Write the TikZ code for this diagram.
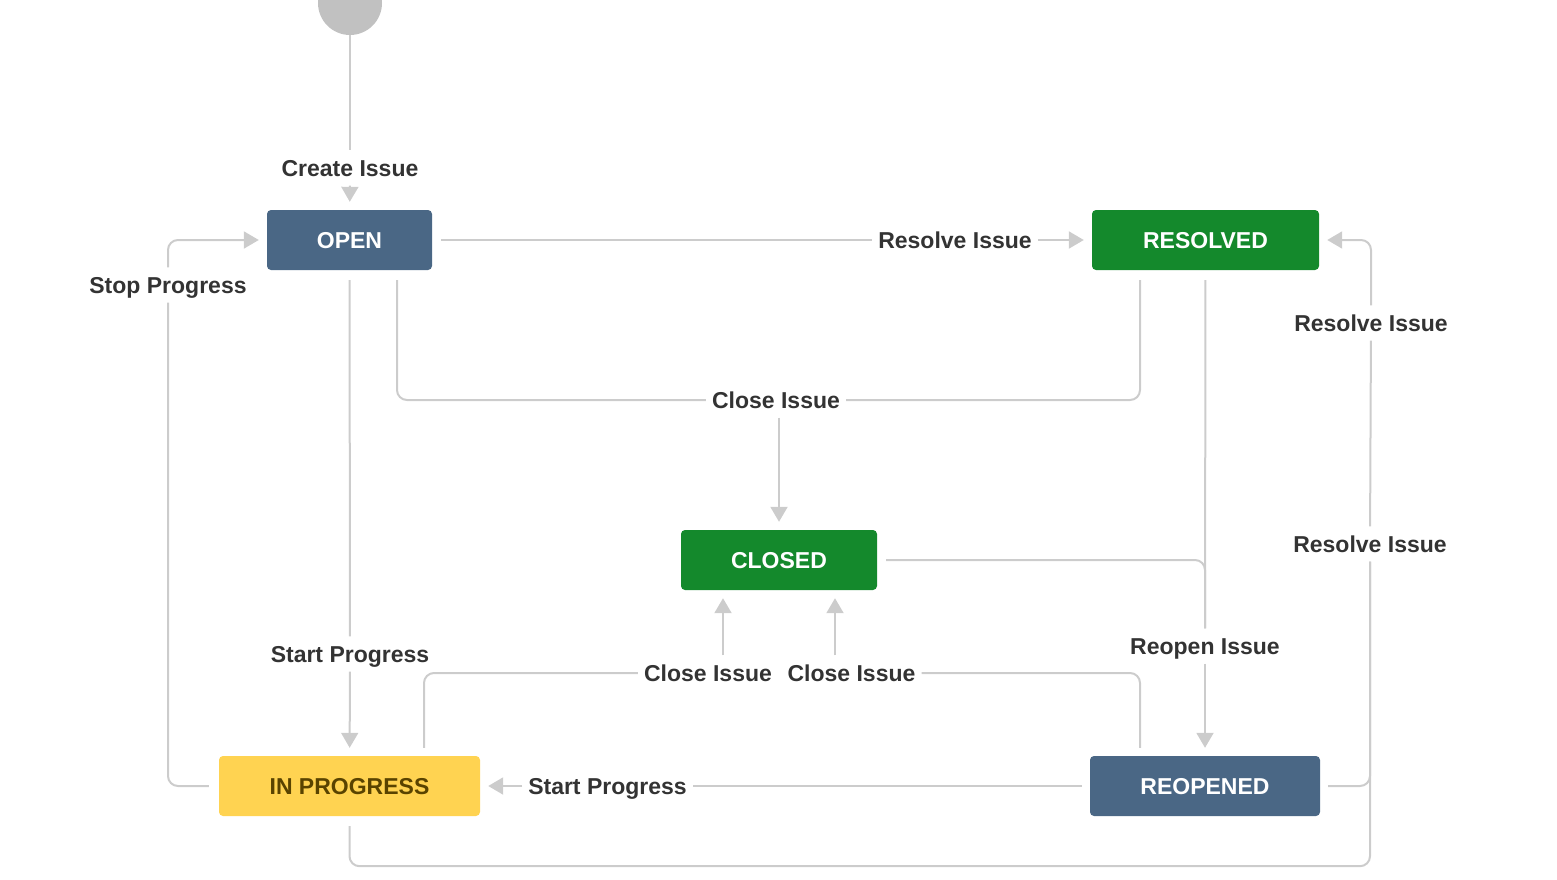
\documentclass[tikz,border=0pt]{standalone}
\usepackage{fontspec}
\setmainfont{Liberation Sans}
\usepackage{tikz}
\usetikzlibrary{arrows.meta,positioning}
\definecolor{openblue}{HTML}{4A6785}
\definecolor{donegreen}{HTML}{14892C}
\definecolor{progyellow}{HTML}{FFD351}
\definecolor{progtext}{HTML}{594300}
\definecolor{labelgrey}{HTML}{333333}
\definecolor{linegrey}{HTML}{CCCCCC}
\definecolor{startgrey}{HTML}{C1C1C1}
\tikzset{state/.style = {rounded corners=4pt, minimum height=60pt, inner sep=0pt, text height=17pt, text depth=0pt, text=white, font=\bfseries\fontsize{23}{27}\selectfont}}
\tikzset{trans/.style = {inner xsep=6pt, inner ysep=9pt, text height=17pt, text depth=0pt, text=labelgrey, font=\bfseries\fontsize{23}{27}\selectfont}}
\tikzset{conn/.style = {draw=linegrey, line width=2pt, rounded corners=10pt}}
\tikzset{arrow/.style = {conn, -{Triangle[width=17pt,length=15pt]}, shorten >=8pt}}
\begin{document}
\begin{tikzpicture}[x=1pt,y=-1pt]
	\useasboundingbox (0,0) rectangle (1557,880);
	\node[circle, fill=startgrey, minimum size=64pt, inner sep=0pt] (start) at (350,3) {};
	\node[state, fill=openblue, minimum width=165pt] (open) at (349.5,240) {OPEN};
	\node[state, fill=donegreen, minimum width=227pt] (resolved) at (1205.5,240) {RESOLVED};
	\node[state, fill=donegreen, minimum width=196pt] (closed) at (779,560) {CLOSED};
	\node[state, fill=progyellow, text=progtext, minimum width=261pt] (inprog) at (349.5,786) {IN PROGRESS};
	\node[state, fill=openblue, minimum width=230pt] (reopened) at (1205,786) {REOPENED};
	\node[trans] (lCreate) at (350,168) {Create Issue};
	\node[trans] (lResolve) at (955,240) {Resolve Issue};
	\node[trans] (lCloseTop) at (776,400) {Close Issue};
	\node[trans] (lStartTop) at (350,654) {Start Progress};
	\node[trans] (lStop) at (168,285) {Stop Progress};
	\node[trans] (lReopen) at (1205,646) {Reopen Issue};
	\node[trans] (lResolveUp) at (1371,323) {Resolve Issue};
	\node[trans] (lResolveDown) at (1370,544) {Resolve Issue};
	\node[trans] (lCloseL) at (708,673) {Close Issue};
	\node[trans] (lCloseR) at (851.5,673) {Close Issue};
	\node[trans] (lStartBot) at (607.5,786) {Start Progress};
	\coordinate (closeTipL) at ([xshift=-56pt]closed.south);
	\coordinate (closeTipR) at ([xshift=56pt]closed.south);
	\draw[conn] (start) -- (lCreate);
	\draw[arrow] (lCreate) -- (open);
	\draw[conn, shorten <=9pt] (open) -- (lResolve);
	\draw[arrow] (lResolve) -- (resolved);
	\draw[conn, shorten <=10pt] ([xshift=47.5pt]open.south) |- (lCloseTop);
	\draw[conn, shorten <=10pt] ([xshift=-65.5pt]resolved.south) |- (lCloseTop);
	\draw[arrow] (lCloseTop.south -| closed.north) -- (closed.north);
	\draw[conn, shorten <=10pt] (open) -- (lStartTop);
	\draw[arrow] (lStartTop) -- (inprog);
	\draw[conn, shorten <=10pt] (inprog) -| (lStop);
	\draw[arrow] (lStop) |- (open);
	\draw[conn, shorten <=10pt] (resolved) -- (lReopen);
	\draw[conn, shorten <=9pt] (closed) -| (lReopen);
	\draw[arrow] (lReopen) -- (reopened);
	\draw[conn, shorten <=8pt] (reopened) -| (lResolveDown);
	\draw[conn, shorten <=10pt] (inprog.south) -- ++(0,50) -| (lResolveDown);
	\draw[conn] (lResolveDown) -- (lResolveUp);
	\draw[arrow] (lResolveUp) |- (resolved);
	\draw[conn, shorten <=8pt] ([xshift=74.5pt]inprog.north) |- (lCloseL);
	\draw[arrow] (lCloseL.north -| closeTipL) -- (closeTipL);
	\draw[conn, shorten <=8pt] ([xshift=-65pt]reopened.north) |- (lCloseR);
	\draw[arrow] (lCloseR.north -| closeTipR) -- (closeTipR);
	\draw[conn, shorten <=8pt] (reopened) -- (lStartBot);
	\draw[arrow] (lStartBot) -- (inprog);
\end{tikzpicture}
\end{document}
